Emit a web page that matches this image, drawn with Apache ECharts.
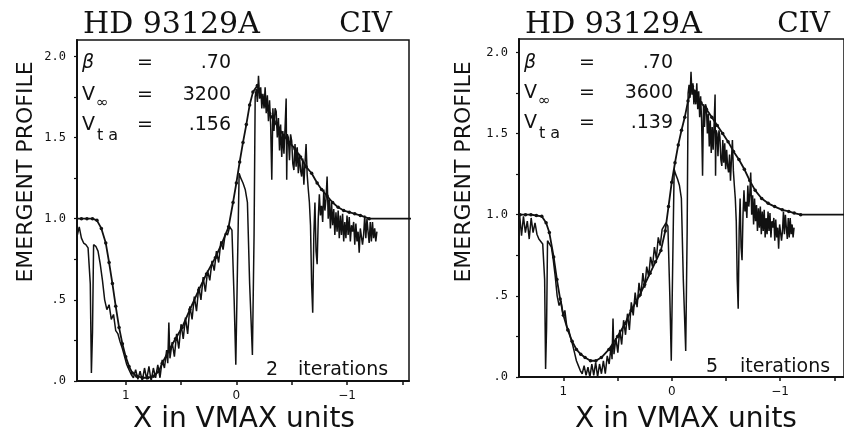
<!DOCTYPE html>
<html>
<head>
<meta charset="utf-8">
<script src="https://cdn.jsdelivr.net/npm/echarts@6/dist/echarts.min.js"></script>
<style>
  html, body { margin: 0; padding: 0; background: #fff; }
  #chart { width: 844px; height: 437px; }
</style>
</head>
<body>
<div id="chart"></div>
<script>
// HD 93129A, C IV resonance doublet: observed profile against wind models.

// Observed spectrum: velocity (km/s) and normalised flux.
const obsVelocity = [
  5184, 5120, 5056, 4992, 4928, 4864, 4800, 4736, 4672, 4608, 4544,
  4480, 4416, 4352, 4288, 4224, 4192, 4160, 4128, 4064, 4000, 3936, 3872, 3808, 3744, 3680,
  3616, 3552, 3488, 3424, 3360, 3296, 3232, 3168, 3104, 3040,
  2976, 2912, 2848, 2784, 2720, 2656, 2592, 2528, 2464, 2400, 2336, 2272, 2208, 2144,
  2080, 2016, 1984, 1952, 1920, 1856, 1792, 1728, 1664, 1600, 1536, 1472, 1408, 1344, 1280,
  1216, 1152, 1088, 1024, 960, 896, 832, 768, 704, 640, 576, 512, 448, 384, 320, 256, 192,
  128, 64, 16, -32, -80, -128, -192, -256, -320, -384, -464, -512, -544, -576, -608, -640,
  -672, -704, -736, -768,
  -800, -832, -864, -896, -928, -960, -992, -1024, -1056, -1088, -1120, -1152, -1184, -1216, -1248,
  -1280, -1312, -1344, -1376, -1408, -1440, -1456, -1472, -1504, -1536, -1568, -1600, -1632, -1664, -1696, -1728, -1760,
  -1792, -1824, -1856, -1888, -1920, -1952, -1984, -2016, -2048, -2080, -2112, -2144, -2176, -2208, -2240, -2272, -2304, -2336, -2368,
  -2400, -2432, -2464, -2496, -2528, -2560, -2592, -2624, -2656, -2688, -2720, -2752, -2784, -2816, -2848, -2880, -2912, -2944, -2976, -3008, -3040, -3072,
  -3104, -3136, -3168, -3200, -3232, -3264, -3296, -3328, -3360, -3392, -3424, -3456, -3488, -3520, -3552, -3584, -3616, -3648, -3680, -3712, -3744, -3776, -3808, -3840, -3872, -3904,
  -3936, -3968, -4000, -4032, -4064, -4096
];
const obsFlux = [
  0.97, 0.90, 1.00, 0.87, 0.99, 0.89, 0.96, 0.85, 0.98, 0.89, 0.95,
  0.88, 0.85, 0.84, 0.82, 0.60, 0.05, 0.30, 0.84, 0.83, 0.80, 0.72, 0.62, 0.50, 0.44, 0.47,
  0.38, 0.41, 0.31, 0.29, 0.24, 0.20, 0.15, 0.10, 0.07, 0.04,
  0.02, 0.07, 0.01, 0.06, 0.00, 0.08, 0.01, 0.09, 0.00, 0.08, 0.02, 0.10, 0.02, 0.13,
  0.08, 0.19, 0.11, 0.36, 0.14, 0.24, 0.15, 0.29, 0.20, 0.35, 0.26, 0.39, 0.29, 0.46, 0.38,
  0.52, 0.43, 0.58, 0.50, 0.64, 0.55, 0.68, 0.62, 0.74, 0.68, 0.80, 0.73, 0.86, 0.81, 0.91, 0.90, 0.95,
  0.93, 0.50, 0.10, 0.70, 1.28, 1.25, 1.22, 1.18, 1.10, 0.60, 0.16, 0.90, 1.75, 1.80, 1.72, 1.88,
  1.74, 1.81, 1.68, 1.77,
  1.68, 1.81, 1.65, 1.76, 1.60, 1.73, 1.58, 1.24, 1.68, 1.54, 1.68, 1.66, 1.50, 1.62, 1.42,
  1.58, 1.38, 1.54, 1.40, 1.56, 1.74, 1.24, 1.52, 1.50, 1.36, 1.52, 1.48, 1.34, 1.30, 1.46, 1.32, 1.44,
  1.28, 1.40, 1.30, 1.26, 1.37, 1.21, 1.34, 1.46, 1.27, 1.18, 1.10, 0.96, 0.60, 0.42, 0.90, 1.10, 0.80, 0.72,
  1.00, 1.15, 1.02, 1.08, 0.98, 1.18, 1.05, 1.12, 1.26, 1.00, 1.12, 0.94, 1.10, 0.96, 1.06, 0.90, 1.04, 0.92, 1.05, 0.88, 1.02, 0.90,
  1.03, 0.86, 0.98, 0.88, 1.02, 0.90, 1.01, 0.86, 0.96, 0.92, 0.98, 0.84, 0.97, 0.86, 0.92, 0.79, 0.94, 0.95, 0.84, 0.90, 1.02, 0.88, 1.00, 0.92, 0.85, 0.98,
  0.86, 0.98, 0.88, 0.94, 0.86, 0.92
];

// Model profiles, abscissa in units of the terminal velocity.
const modelX_3200 = [
  1.45, 1.40, 1.35, 1.30, 1.26, 1.22, 1.18, 1.15, 1.12, 1.09, 1.06, 1.03, 1.00, 0.97, 0.94,
  0.90, 0.85, 0.80, 0.75, 0.70, 0.67, 0.60, 0.55, 0.49, 0.42, 0.34, 0.27, 0.19, 0.13, 0.07,
  0.03, 0.00, -0.03, -0.06, -0.09, -0.12, -0.15, -0.19, -0.22, -0.26, -0.30, -0.34, -0.38,
  -0.43, -0.48, -0.53, -0.58, -0.63, -0.68, -0.73, -0.77, -0.82, -0.87, -0.92, -0.97, -1.02,
  -1.07, -1.12, -1.20, -1.60
];
const modelY_3200 = [
  1.00, 1.00, 1.00, 1.00, 0.99, 0.94, 0.85, 0.73, 0.60, 0.46, 0.33, 0.23, 0.15, 0.09, 0.05,
  0.03, 0.02, 0.02, 0.03, 0.06, 0.11, 0.20, 0.26, 0.33, 0.44, 0.56, 0.66, 0.76, 0.85, 0.95,
  1.10, 1.22, 1.35, 1.47, 1.58, 1.70, 1.78, 1.82, 1.76, 1.70, 1.65, 1.60, 1.56,
  1.51, 1.47, 1.43, 1.38, 1.32, 1.28, 1.22, 1.18, 1.14, 1.10, 1.07, 1.05, 1.04,
  1.03, 1.02, 1.00, 1.00
];
const modelX_3600 = [
  1.45, 1.40, 1.35, 1.30, 1.25, 1.20, 1.16, 1.13, 1.09, 1.06, 1.03, 1.00, 0.96, 0.92, 0.88,
  0.84, 0.80, 0.75, 0.70, 0.65, 0.58, 0.50, 0.43, 0.375, 0.30, 0.25, 0.20, 0.15, 0.10, 0.06,
  0.03, 0.00, -0.03, -0.06, -0.09, -0.12, -0.15, -0.19, -0.22, -0.27, -0.32, -0.37, -0.42,
  -0.47, -0.52, -0.57, -0.62, -0.67, -0.72, -0.77, -0.83, -0.89, -0.95, -1.02, -1.08, -1.13,
  -1.19, -1.70
];
const modelY_3600 = [
  1.00, 1.00, 1.00, 1.00, 0.995, 0.99, 0.95, 0.89, 0.74, 0.60, 0.48, 0.38, 0.29, 0.22, 0.17,
  0.14, 0.12, 0.10, 0.10, 0.12, 0.17, 0.25, 0.33, 0.41, 0.50, 0.57, 0.64, 0.71, 0.78, 0.90,
  1.05, 1.20, 1.32, 1.43, 1.52, 1.60, 1.70, 1.79, 1.74, 1.69, 1.65, 1.60, 1.55,
  1.50, 1.45, 1.39, 1.34, 1.28, 1.21, 1.15, 1.10, 1.07, 1.05, 1.03, 1.02, 1.01,
  1.00, 1.00
];

// Fit parameters per panel.
const panelVinf = [3200, 3600];
const panelBeta = ['.70', '.70'];
const panelVinfText = ['3200', '3600'];
const panelVta = ['.156', '.139'];
const panelIterations = ['2', '5'];

// Tick positions and labels.
const xTickValues = [1.5, 1, 0.5, 0, -0.5, -1, -1.5];
const xLabelValues = [1, 0, -1];
const xLabelText = ['1', '0', '\u22121'];
const yTickValues = [0, 0.25, 0.5, 0.75, 1, 1.25, 1.5, 1.75, 2];
const yLabelValues = [0, 0.5, 1, 1.5, 2];
const yLabelText = ['.0', '.5', '1.0', '1.5', '2.0'];

const INK = '#111';
const SANS = '"DejaVu Sans", sans-serif';
const SERIF = '"DejaVu Serif", serif';

const grids = [
  { left: 77, top: 40, width: 332, height: 341, xMin: -1.56, xMax: 1.44 },
  { left: 519, top: 39, width: 336, height: 338, xMin: -1.59, xMax: 1.41 }
];

function zip(xs, ys) { return xs.map((x, i) => [x, ys[i]]); }

const obsSeries = panelVinf.map(vinf => obsVelocity.map((v, i) => [v / vinf, obsFlux[i]]));
const modelSeries = [zip(modelX_3200, modelY_3200), zip(modelX_3600, modelY_3600)];

function xAxisFor(i) {
  const g = grids[i];
  return {
    gridIndex: i, type: 'value', inverse: true, min: g.xMin, max: g.xMax,
    axisLine: { show: true, onZero: false, lineStyle: { color: INK, width: 2 } },
    axisTick: { show: true, customValues: xTickValues, length: 4, lineStyle: { color: INK, width: 1.5 } },
    axisLabel: {
      customValues: xLabelValues, margin: 9, color: INK, fontFamily: SANS, fontSize: 12,
      formatter: v => xLabelText[xLabelValues.indexOf(v)]
    },
    splitLine: { show: false }
  };
}
function yAxisFor(i) {
  return {
    gridIndex: i, type: 'value', min: 0, max: grids[i].height / 162.3,
    axisLine: { show: true, onZero: false, lineStyle: { color: INK, width: 2 } },
    axisTick: { show: true, customValues: yTickValues, length: 3, lineStyle: { color: INK, width: 1.2 } },
    axisLabel: {
      customValues: yLabelValues, margin: 11, color: INK,
      fontFamily: '"DejaVu Sans Mono", monospace', fontSize: 12,
      formatter: v => yLabelText[yLabelValues.indexOf(v)]
    },
    splitLine: { show: false }
  };
}

function text(x, y, str, font, align, opts) {
  return Object.assign({
    type: 'text', x: x, y: y, silent: true,
    style: { text: str, font: font, fill: INK, align: align || 'left', verticalAlign: 'middle' }
  }, opts || {});
}

function panelText(i) {
  const gl = grids[i].left;
  const dy = i === 0 ? 0 : -2;
  const titleY = 25;
  return [
    text(gl + 6, titleY, 'HD 93129A', 'normal 30px ' + SERIF, 'left'),
    text(gl + (i === 0 ? 315 : 311), titleY, 'CIV', 'normal 28px ' + SERIF, 'right'),
    // fit parameters
    text(gl + 5, 63, '\u03b2', 'italic 19px ' + SANS),
    text(gl + 68, 63, '=', 'normal 19px ' + SANS, 'center'),
    text(gl + 154, 63, panelBeta[i], 'normal 19px ' + SANS, 'right'),
    text(gl + 5, 95 + dy, 'V', 'normal 19px ' + SANS),
    text(gl + 19, 103 + dy, '\u221e', 'normal 15px ' + SANS),
    text(gl + 68, 95 + dy, '=', 'normal 19px ' + SANS, 'center'),
    text(gl + 154, 95 + dy, panelVinfText[i], 'normal 19px ' + SANS, 'right'),
    text(gl + 5, 125 + dy, 'V', 'normal 19px ' + SANS),
    text(gl + 20, 136 + dy, 't a', 'normal 16px ' + SANS),
    text(gl + 68, 125 + dy, '=', 'normal 19px ' + SANS, 'center'),
    text(gl + 154, 125 + dy, panelVta[i], 'normal 19px ' + SANS, 'right'),
    // iteration count
    text(gl + (i === 0 ? 195 : 193), i === 0 ? 370 : 367, panelIterations[i], 'normal 19px ' + SANS, 'center'),
    text(gl + 221, i === 0 ? 370 : 367, 'iterations', 'normal 19px ' + SANS),
    // axis titles
    text(gl + 167, 420, 'X in VMAX units', 'normal 28px ' + SANS, 'center'),
    text(gl - (i === 0 ? 51 : 55), 172, 'EMERGENT PROFILE', 'normal 22px ' + SANS, 'center', { rotation: Math.PI / 2 })
  ];
}

const chart = echarts.init(document.getElementById('chart'), null, { renderer: 'canvas' });
const series = [];
[0, 1].forEach(i => {
  series.push({
    type: 'line', xAxisIndex: i, yAxisIndex: i, data: obsSeries[i],
    showSymbol: false, symbol: 'none', animation: false, clip: true,
    lineStyle: { color: INK, width: 1.5 }, z: 3
  });
  series.push({
    type: 'line', xAxisIndex: i, yAxisIndex: i,
    data: modelSeries[i].map((p, k, arr) => k === arr.length - 1 ? { value: p, symbol: 'none' } : p),
    symbol: 'circle', symbolSize: 3.5, showSymbol: true, animation: false, clip: true,
    itemStyle: { color: INK }, lineStyle: { color: INK, width: 1.8 }, z: 4
  });
});

chart.setOption({
  backgroundColor: '#fff',
  animation: false,
  grid: grids.map(g => ({
    left: g.left, top: g.top, width: g.width, height: g.height,
    show: true, borderColor: INK, borderWidth: 1.5, backgroundColor: 'transparent'
  })),
  xAxis: [xAxisFor(0), xAxisFor(1)],
  yAxis: [yAxisFor(0), yAxisFor(1)],
  series: series,
  graphic: { elements: panelText(0).concat(panelText(1)) }
});
</script>
</body>
</html>
